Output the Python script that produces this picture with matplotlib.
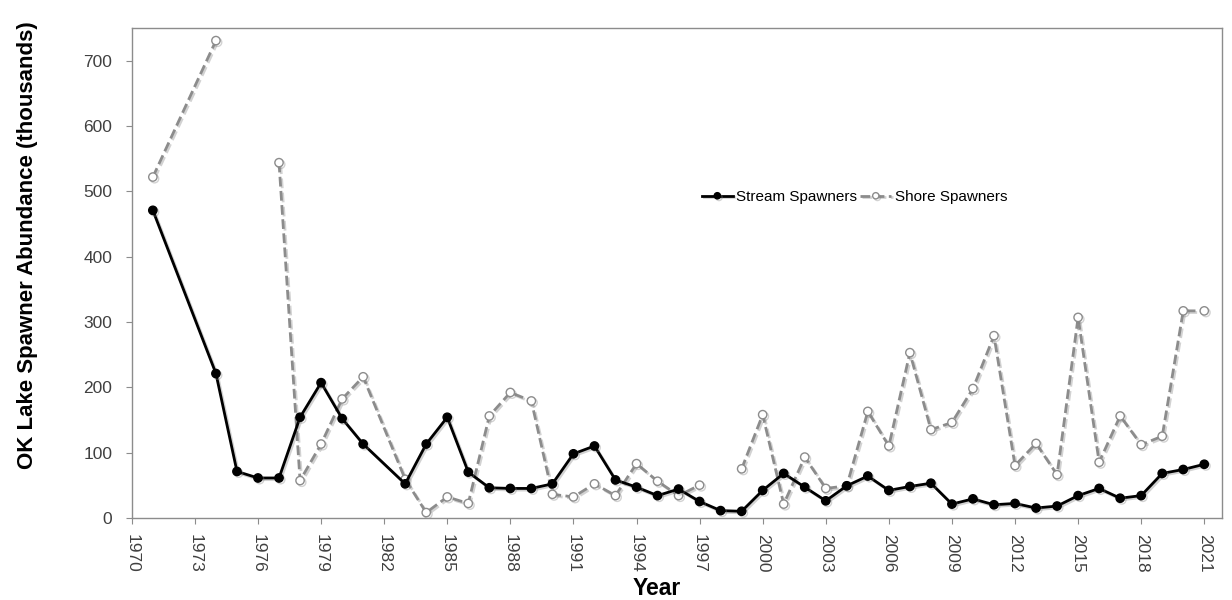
import numpy as np
import matplotlib
matplotlib.use("Agg")
import matplotlib.pyplot as plt
import matplotlib.patheffects as pe

plt.rcParams['font.family'] = ['Liberation Sans', 'DejaVu Sans']

# ---------- data (thousands of spawners) ----------
# missing years that the original chart bridges are simply left out,
# NaN entries break the line
stream_years = [1971, 1974, 1975, 1976, 1977, 1978, 1979, 1980, 1981, 1983,
                1984, 1985, 1986, 1987, 1988, 1989, 1990, 1991, 1992, 1993,
                1994, 1995, 1996, 1997, 1998, 1999, 2000, 2001, 2002, 2003,
                2004, 2005, 2006, 2007, 2008, 2009, 2010, 2011, 2012, 2013,
                2014, 2015, 2016, 2017, 2018, 2019, 2020, 2021]
stream_vals = [471, 221, 71, 61, 61, 154, 207, 152, 113, 52,
               113, 154, 70, 46, 45, 45, 52, 98, 110, 58,
               47, 34, 44, 25, 11, 10, 42, 68, 47, 26,
               49, 64, 42, 48, 53, 21, 29, 20, 22, 15,
               18, 34, 45, 30, 34, 68, 74, 82]

shore_years = [1971, 1974, 1975, 1977, 1978, 1979, 1980, 1981, 1983, 1984,
               1985, 1986, 1987, 1988, 1989, 1990, 1991, 1992, 1993, 1994,
               1995, 1996, 1997, 1998, 1999, 2000, 2001, 2002, 2003, 2004,
               2005, 2006, 2007, 2008, 2009, 2010, 2011, 2012, 2013, 2014,
               2015, 2016, 2017, 2018, 2019, 2020, 2021]
shore_vals = [522, 731, np.nan, 544, 57, 113, 182, 216, 59, 8,
              32, 22, 156, 192, 179, 36, 32, 52, 34, 83,
              56, 34, 50, np.nan, 75, 158, 21, 93, 45, 49,
              163, 110, 253, 135, 146, 198, 279, 80, 114, 66,
              307, 85, 156, 112, 125, 317, 317]

x_ticks = list(range(1970, 2022, 3))
y_ticks = [0, 100, 200, 300, 400, 500, 600, 700]

# ---------- figure ----------
fig = plt.figure(figsize=(12.32, 6.0), dpi=100)
ax = fig.add_axes([0.107, 0.137, 0.885, 0.816])

shadow = [pe.SimpleLineShadow(offset=(1.2, -1.2), shadow_color='0.5', alpha=0.35), pe.Normal()]

ax.plot(stream_years, stream_vals, color='black', lw=2.0, marker='o',
        markersize=6, markerfacecolor='black', markeredgecolor='black',
        label='Stream Spawners', path_effects=shadow, zorder=3)
ax.plot(shore_years, shore_vals, color='#8c8c8c', lw=2.0, ls=(0, (3.5, 1.6)),
        marker='o', markersize=6, markerfacecolor='white',
        markeredgecolor='#8c8c8c', markeredgewidth=1.0,
        label='Shore Spawners', path_effects=shadow, zorder=2)

ax.set_xlim(1970, 2021.85)
ax.set_ylim(0, 750)
ax.set_xticks(x_ticks)
ax.set_xticklabels([str(y) for y in x_ticks], rotation=-90)
ax.set_yticks(y_ticks)

ax.tick_params(axis='both', colors='#8c8c8c', labelcolor='#404040',
               labelsize=12.5, length=4, direction='out')
ax.tick_params(axis='y', pad=10)
ax.tick_params(axis='x', pad=8)
for side in ['left', 'right', 'top', 'bottom']:
    ax.spines[side].set_color('#8c8c8c')
    ax.spines[side].set_linewidth(1.0)

ax.set_xlabel('Year', fontsize=16.5, fontweight='bold')
ax.set_ylabel('OK Lake Spawner Abundance (thousands)', fontsize=16,
              fontweight='bold')
# label positions in the original are a bit off-centre
ax.xaxis.set_label_coords(0.481, -0.121)
ax.yaxis.set_label_coords(-0.086, 0.557)

ax.legend(loc='center', bbox_to_anchor=(0.663, 0.655), ncol=2, frameon=False,
          fontsize=11, handlelength=2.0, handletextpad=0.25, columnspacing=0.2,
          markerscale=0.75)

fig.savefig('out.png', dpi=100)
